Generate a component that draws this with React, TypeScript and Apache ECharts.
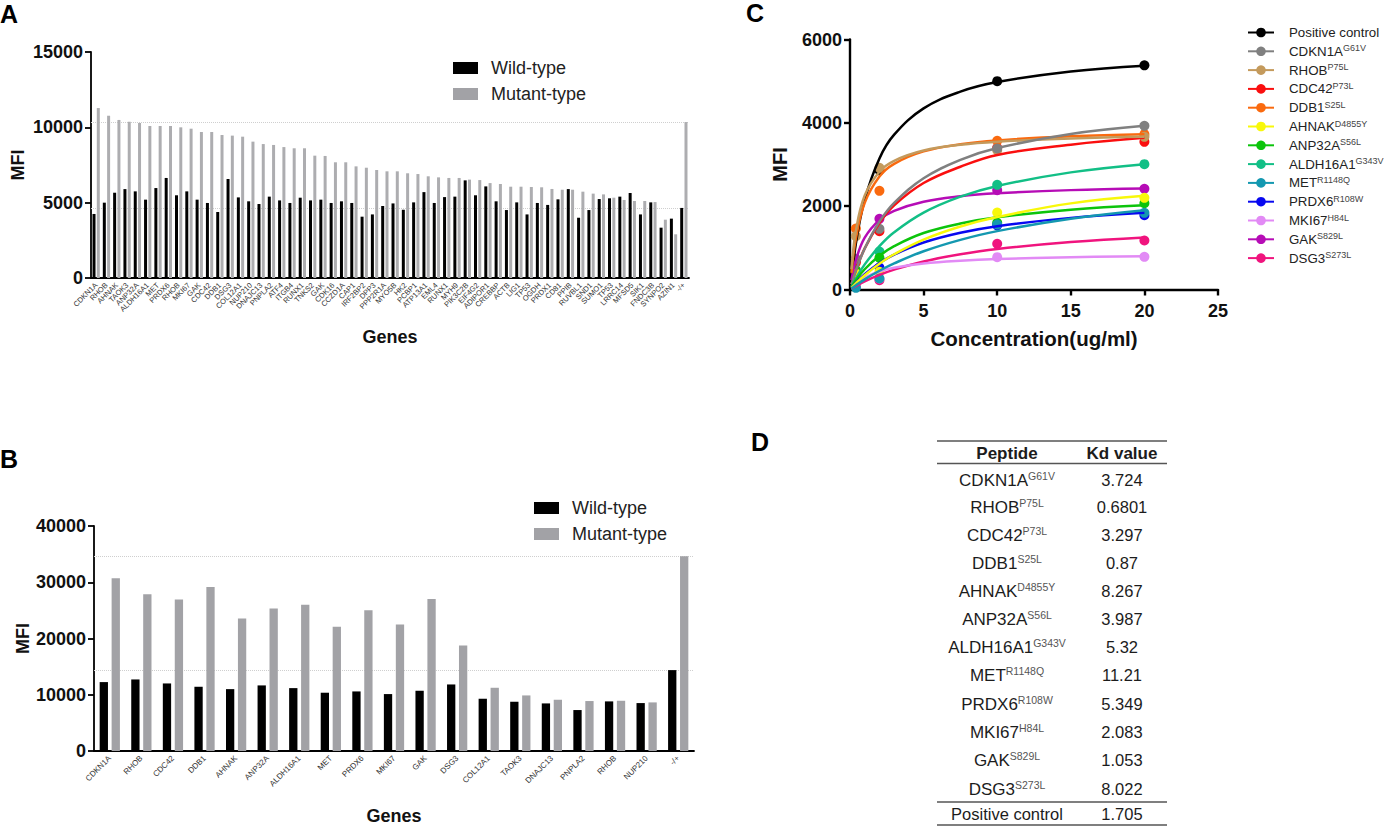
import React, { useEffect, useRef } from 'react';
import * as echarts from 'echarts';

const FONT = '"Liberation Sans", Arial, sans-serif';
const MUTANT_GREY = '#a2a2a6';

// Panel A
const genesA = ['CDKN1A', 'RHOB', 'AHNAK', 'TAOK3', 'ANP32A', 'ALDH16A1', 'MET', 'PRDX6', 'RHOB', 'MKI67', 'GAK', 'CDC42', 'DDB1', 'DSG3', 'COL12A1', 'NUP210', 'DNAJC13', 'PNPLA2', 'ATF4', 'ITGB4', 'RUNX1', 'TNKS2', 'GAK', 'CDK16', 'CCZD1A', 'CAP1', 'IRF2BP2', 'DPP3', 'PPP2R1A', 'MYO5B', 'HK2', 'PCBP1', 'ATP13A1', 'EML4', 'RUNX1', 'MYH9', 'PIK3C2B', 'EIF4G2', 'ADIPOR1', 'CREBBP', 'ACTB', 'LIG1', 'TP53', 'OGDH', 'PRDX1', 'CD81', 'PPIB', 'RUVBL1', 'SND1', 'SUMO1', 'TP53', 'LRRC14', 'MFSD5', 'SIK1', 'FNDC3B', 'SYNPO2', 'AZIN1', '-/+'];
const wildA = [4250, 5000, 5660, 5900, 5750, 5200, 5970, 6640, 5490, 5750, 5200, 4980, 4380, 6570, 5350, 5090, 4910, 5400, 5150, 4980, 5330, 5150, 5200, 4980, 5090, 4980, 4070, 4220, 4780, 4950, 4530, 5020, 5700, 4980, 5370, 5400, 6480, 5490, 6080, 5090, 4510, 5020, 4220, 4980, 4850, 5220, 5900, 4000, 4510, 5240, 5290, 5400, 5640, 4220, 5020, 3340, 3940, 4650];
const mutantA = [11280, 10770, 10490, 10370, 10290, 10090, 10090, 10090, 10000, 9910, 9690, 9690, 9490, 9450, 9380, 9050, 8890, 8830, 8690, 8610, 8610, 8120, 8100, 7680, 7680, 7410, 7320, 7170, 7080, 7080, 6950, 6900, 6750, 6680, 6640, 6640, 6530, 6500, 6300, 6240, 6060, 6060, 6040, 6020, 5910, 5860, 5860, 5730, 5600, 5550, 5330, 5180, 5110, 5110, 5040, 3870, 2900, 10350];
const refLinesA = [10350, 4650];

// Panel B
const genesB = ['CDKN1A', 'RHOB', 'CDC42', 'DDB1', 'AHNAK', 'ANP32A', 'ALDH16A1', 'MET', 'PRDX6', 'MKI67', 'GAK', 'DSG3', 'COL12A1', 'TAOK3', 'DNAJC13', 'PNPLA2', 'RHOB', 'NUP210', '-/+'];
const wildB = [12250, 12720, 12010, 11420, 11000, 11660, 11180, 10360, 10590, 10120, 10710, 11830, 9290, 8760, 8460, 7280, 8820, 8520, 14380];
const mutantB = [30710, 27870, 26920, 29170, 23550, 25330, 25980, 22070, 25030, 22490, 27040, 18760, 11240, 9880, 9110, 8880, 8930, 8640, 34620];
const refLinesB = [34620, 14380];

// Panel C: measured concentrations and the points on the fitted curves
const concentrations = [0.4, 2, 10, 20];
const curveX = [0.1, 0.4, 1, 2, 3, 5, 7.5, 10, 15, 20];

const legendOrder = ['Positive control', 'CDKN1A', 'RHOB', 'CDC42', 'DDB1', 'AHNAK', 'ANP32A', 'ALDH16A1', 'MET', 'PRDX6', 'MKI67', 'GAK', 'DSG3'];
const mutations: Record<string, string> = { CDKN1A: 'G61V', RHOB: 'P75L', CDC42: 'P73L', DDB1: 'S25L', AHNAK: 'D4855Y', ANP32A: 'S56L', ALDH16A1: 'G343V', MET: 'R1148Q', PRDX6: 'R108W', MKI67: 'H84L', GAK: 'S829L', DSG3: 'S273L' };

const positiveCurve = [100, 1107, 2154, 3146, 3716, 4346, 4749, 4979, 5233, 5370];
const positivePoints = [700, 2860, 5000, 5380];
const cdkn1aCurve = [122, 452, 986, 1628, 2079, 2670, 3113, 3395, 3732, 3928];
const cdkn1aPoints = [736, 1456, 3384, 3928];
const rhobCurve = [486, 1403, 2255, 2827, 3089, 3335, 3474, 3548, 3625, 3664];
const rhobPoints = [1280, 2920, 3340, 3664];
const cdc42Curve = [125, 459, 986, 1597, 2020, 2555, 2945, 3230, 3476, 3640];
const cdc42Points = [648, 1400, 3400, 3544];
const ddb1Curve = [401, 1225, 2080, 2711, 3016, 3314, 3486, 3579, 3677, 3728];
const ddb1Points = [1464, 2368, 3568, 3728];
const ahnakCurve = [38, 147, 343, 619, 846, 1197, 1511, 1739, 2067, 2248];
const ahnakPoints = [384, 424, 1848, 2200];
const anp32aCurve = [59, 221, 486, 809, 1041, 1355, 1582, 1732, 1914, 2020];
const anp32aPoints = [464, 760, 1600, 2072];
const aldhCurve = [70, 266, 603, 1040, 1373, 1845, 2228, 2486, 2811, 3008];
const aldhPoints = [424, 912, 2512, 3008];
const metCurve = [26, 102, 243, 450, 627, 917, 1191, 1401, 1700, 1904];
const metPoints = [40, 264, 1560, 1840];
const prdx6Curve = [43, 162, 368, 635, 838, 1127, 1361, 1519, 1719, 1840];
const prdx6Points = [184, 528, 1540, 1784];
const mki67Curve = [40, 142, 286, 433, 521, 623, 691, 731, 775, 800];
const mki67Points = [150, 264, 776, 784];
const gakCurve = [221, 703, 1243, 1672, 1889, 2108, 2238, 2309, 2385, 2424];
const gakPoints = [700, 1696, 2384, 2416];
const dsg3Curve = [22, 83, 194, 349, 477, 673, 846, 972, 1140, 1250];
const dsg3Points = [64, 224, 1096, 1176];

// listed in drawing order, bottom first
const bindingSeries: [string, string, number[], number[]][] = [
  ['Positive control', '#000000', positiveCurve, positivePoints],
  ['DSG3', '#f0147e', dsg3Curve, dsg3Points],
  ['MKI67', '#e28af5', mki67Curve, mki67Points],
  ['GAK', '#b60cb6', gakCurve, gakPoints],
  ['CDC42', '#fa0f0f', cdc42Curve, cdc42Points],
  ['DDB1', '#fa6a0f', ddb1Curve, ddb1Points],
  ['RHOB', '#c49a5c', rhobCurve, rhobPoints],
  ['CDKN1A', '#808080', cdkn1aCurve, cdkn1aPoints],
  ['ALDH16A1', '#12bf86', aldhCurve, aldhPoints],
  ['ANP32A', '#0cc40c', anp32aCurve, anp32aPoints],
  ['PRDX6', '#0808f0', prdx6Curve, prdx6Points],
  ['AHNAK', '#f8f80a', ahnakCurve, ahnakPoints],
  ['MET', '#1498b0', metCurve, metPoints],
];

// Panel D
const tablePeptides = ['CDKN1A', 'RHOB', 'CDC42', 'DDB1', 'AHNAK', 'ANP32A', 'ALDH16A1', 'MET', 'PRDX6', 'MKI67', 'GAK', 'DSG3'];
const tableKd = ['3.724', '0.6801', '3.297', '0.87', '8.267', '3.987', '5.32', '11.21', '5.349', '2.083', '1.053', '8.022'];
const positiveKd = '1.705';

const supText = (name: string) => (mutations[name] ? `{b|${name}}{s|${mutations[name]}}` : `{b|${name}}`);

const barAxisX = (genes: string[], gridIndex: number, fontSize: number, nameGap: number): any => ({
  type: 'category',
  gridIndex,
  data: genes,
  name: 'Genes',
  nameLocation: 'middle',
  nameGap,
  nameTextStyle: { fontSize: 18, fontWeight: 'bold', color: '#111' },
  axisLine: { lineStyle: { color: '#000', width: 1.8 } },
  axisTick: { alignWithLabel: true, length: 4, lineStyle: { color: '#000', width: 1.5 } },
  axisLabel: { interval: 0, rotate: 45, fontSize, color: '#333', margin: 6 },
  splitLine: { show: false },
});

const valueAxisY = (gridIndex: number, max: number, interval: number, nameSize: number, nameGap: number, width = 1.8): any => ({
  type: 'value',
  gridIndex,
  min: 0,
  max,
  interval,
  name: 'MFI',
  nameLocation: 'middle',
  nameGap,
  nameTextStyle: { fontSize: nameSize, fontWeight: 'bold', color: '#111' },
  axisLine: { show: true, lineStyle: { color: '#000', width } },
  axisTick: { show: true, length: 6, lineStyle: { color: '#000', width } },
  axisLabel: { fontSize: 18, fontWeight: 'bold', color: '#111', margin: 8, formatter: (v: number) => String(v) },
  splitLine: { show: false },
});

const barSeries = (name: string, data: number[], color: string, index: number, barWidth: number, barGap: string, refLines?: number[]): any => ({
  name,
  type: 'bar',
  xAxisIndex: index,
  yAxisIndex: index,
  data,
  barWidth,
  barGap,
  itemStyle: { color },
  z: 3,
  markLine: refLines && {
    silent: true,
    symbol: 'none',
    z: 1,
    label: { show: false },
    lineStyle: { color: '#cfcfcf', width: 1, type: 'dotted' },
    data: refLines.map((v) => ({ yAxis: v })),
  },
});

const barLegend = (left: number, top: number): any => ({
  left,
  top,
  orient: 'vertical',
  itemWidth: 25,
  itemHeight: 12,
  itemGap: 8,
  icon: 'rect',
  textStyle: { fontSize: 18, color: '#222', padding: [0, 0, 0, 8] },
  data: [
    { name: 'Wild-type', itemStyle: { color: '#000' } },
    { name: 'Mutant-type', itemStyle: { color: MUTANT_GREY } },
  ],
});

const panelLetter = (text: string, x: number, y: number): any => ({
  type: 'text',
  x,
  y,
  style: { text, font: `bold 25px ${FONT}`, fill: '#000', textVerticalAlign: 'middle' },
});

const tableRule = (y: number): any => ({
  type: 'line',
  shape: { x1: 937, y1: y, x2: 1167, y2: y },
  style: { stroke: '#555', lineWidth: 1.3 },
});

const tableCell = (text: string, x: number, y: number, rich?: boolean, weight = 'normal'): any => ({
  type: 'text',
  x,
  y,
  style: {
    text,
    font: `${weight} ${weight === 'bold' ? 17 : 16.5}px ${FONT}`,
    fill: '#1c1c1c',
    align: 'center',
    verticalAlign: 'middle',
    rich: rich
      ? {
          b: { font: `normal 17px ${FONT}`, fill: '#1c1c1c', lineHeight: 20 },
          s: { font: `normal 10.5px ${FONT}`, fill: '#555', verticalAlign: 'top', lineHeight: 20, padding: [0, 0, 8, 0] },
        }
      : undefined,
  },
});

const tableRowsY = [480, 507, 535, 563, 591, 619, 647, 675, 704, 732, 760, 789];

const buildOption = (): any => ({
  animation: false,
  backgroundColor: '#fff',
  textStyle: { fontFamily: FONT },
  grid: [
    { left: 91, top: 52, width: 598, height: 226, outerBoundsMode: 'none' },
    { left: 94, top: 526, width: 600, height: 225, outerBoundsMode: 'none' },
    { left: 850, top: 39.5, width: 368, height: 250, outerBoundsMode: 'none' },
  ],
  xAxis: [
    barAxisX(genesA, 0, 7.5, 50),
    barAxisX(genesB, 1, 8, 56),
    {
      type: 'value',
      gridIndex: 2,
      min: 0,
      max: 25,
      interval: 5,
      name: 'Concentration(ug/ml)',
      nameLocation: 'middle',
      nameGap: 38,
      nameTextStyle: { fontSize: 20.5, fontWeight: 'bold', color: '#111' },
      axisLine: { lineStyle: { color: '#000', width: 2.4 } },
      axisTick: { length: 6, lineStyle: { color: '#000', width: 2.4 } },
      axisLabel: { fontSize: 18, fontWeight: 'bold', color: '#111', margin: 12 },
      splitLine: { show: false },
    },
  ],
  yAxis: [
    valueAxisY(0, 15000, 5000, 18, 64),
    valueAxisY(1, 40000, 10000, 18, 58),
    valueAxisY(2, 6000, 2000, 20, 60, 2.4),
  ],
  legend: [
    barLegend(448, 54),
    barLegend(529, 494),
    {
      left: 1242,
      top: 21,
      orient: 'vertical',
      itemWidth: 26,
      itemHeight: 12,
      itemGap: 4.8,
      data: legendOrder,
      formatter: supText,
      textStyle: {
        color: '#222',
        rich: {
          b: { fontSize: 13.3, color: '#222', lineHeight: 15 },
          s: { fontSize: 9, color: '#444', lineHeight: 15, verticalAlign: 'top', padding: [0, 0, 5, 0] },
        },
        padding: [0, 0, 0, 10],
      },
    },
  ],
  series: [
    barSeries('Wild-type', wildA, '#000', 0, 3, '43%', refLinesA),
    barSeries('Mutant-type', mutantA, '#adadb0', 0, 3, '43%'),
    barSeries('Wild-type', wildB, '#000', 1, 8.3, '44%', refLinesB),
    barSeries('Mutant-type', mutantB, MUTANT_GREY, 1, 8.3, '44%'),
    ...bindingSeries.flatMap(([name, color, curve, points]) => [
      {
        name,
        type: 'line',
        xAxisIndex: 2,
        yAxisIndex: 2,
        data: curveX.map((x, i) => [x, curve[i]]),
        smooth: 0.4,
        showSymbol: false,
        symbol: 'circle',
        clip: false,
        lineStyle: { color, width: 2.5 },
        itemStyle: { color },
      },
      {
        name,
        type: 'scatter',
        xAxisIndex: 2,
        yAxisIndex: 2,
        data: concentrations.map((x, i) => [x, points[i]]),
        symbol: 'circle',
        symbolSize: 10,
        clip: false,
        itemStyle: { color, opacity: 1 },
      },
    ]),
  ],
  graphic: [
    panelLetter('A', 0, 14),
    panelLetter('B', 0, 459),
    panelLetter('C', 746, 13),
    panelLetter('D', 751, 442),
    tableRule(441),
    tableRule(463.5),
    tableRule(802),
    tableRule(825),
    tableCell('Peptide', 1007, 453, false, 'bold'),
    tableCell('Kd value', 1122, 453, false, 'bold'),
    ...tablePeptides.map((name, i) => tableCell(supText(name), 1007, tableRowsY[i], true)),
    ...tableKd.map((kd, i) => tableCell(kd, 1122, tableRowsY[i])),
    tableCell('Positive control', 1007, 814),
    tableCell(positiveKd, 1122, 814),
  ],
});

const App: React.FC = () => {
  const chartRef = useRef<HTMLDivElement>(null);

  useEffect(() => {
    document.body.style.margin = '0';
    if (!chartRef.current) return;
    const chart = echarts.init(chartRef.current, undefined, { renderer: 'svg' });
    chart.setOption(buildOption());
    return () => chart.dispose();
  }, []);

  return <div ref={chartRef} style={{ width: 1388, height: 826, background: '#fff' }} />;
};

export default App;
